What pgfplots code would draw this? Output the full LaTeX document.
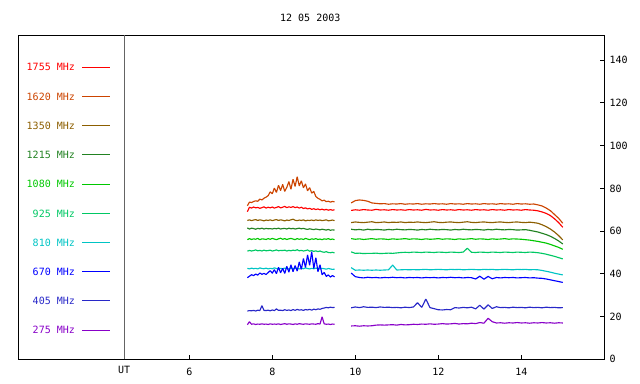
\documentclass[border=0pt]{standalone}
\usepackage{fontspec}
\setmainfont{DejaVu Sans Mono}
\usepackage{pgfplots}
\usepackage{pgfplotstable}
\pgfplotsset{compat=1.18}
\definecolor{k1755}{RGB}{255,0,0}
\definecolor{k1620}{RGB}{204,68,0}
\definecolor{k1350}{RGB}{140,94,0}
\definecolor{k1215}{RGB}{34,130,34}
\definecolor{k1080}{RGB}{0,200,0}
\definecolor{k925}{RGB}{0,200,100}
\definecolor{k810}{RGB}{0,196,196}
\definecolor{k670}{RGB}{0,0,255}
\definecolor{k405}{RGB}{40,40,200}
\definecolor{k275}{RGB}{136,0,200}
\definecolor{utgray}{RGB}{100,100,100}

\pgfplotstableread{
t f1755 f1620 f1350 f1215 f1080 f925 f810 f670 f405 f275
7.40 69.1 71.9 65.0 61.5 56.0 50.6 42.6 38.2 22.6 16.2
7.45 71.2 73.6 65.3 61.0 56.5 51.0 42.3 38.9 22.8 17.6
7.50 70.8 73.4 64.9 61.4 56.1 50.7 42.7 39.6 22.7 16.4
7.55 71.3 73.9 65.2 61.2 56.4 50.9 42.4 39.2 22.9 16.6
7.60 70.9 74.2 65.4 60.9 56.2 51.2 42.6 39.9 22.6 16.3
7.65 71.1 74.0 65.0 61.3 56.6 50.8 42.3 39.4 23.0 16.5
7.70 70.7 75.0 65.3 61.1 56.0 51.0 42.8 40.4 22.8 16.4
7.75 71.0 74.6 65.1 61.4 56.4 50.7 42.5 39.8 25.1 16.6
7.80 71.4 75.4 64.8 61.0 56.3 51.1 42.4 40.2 22.9 16.4
7.85 70.8 75.9 65.2 61.3 56.1 50.8 42.7 39.7 22.8 16.5
7.90 71.2 76.6 65.0 61.1 56.5 50.9 42.3 40.6 23.0 16.3
7.95 70.9 78.4 65.3 61.2 56.2 51.1 42.6 41.5 22.7 16.6
8.00 71.3 77.5 64.9 61.0 56.6 50.7 42.4 40.3 23.1 16.4
8.05 70.8 80.2 65.2 61.3 56.3 50.9 42.8 42.0 22.8 16.5
8.10 71.1 78.1 65.4 61.1 56.0 51.2 42.5 40.1 23.6 16.4
8.15 71.5 81.5 65.0 61.4 56.4 50.8 42.3 43.1 22.9 16.6
8.20 70.9 79.0 65.3 61.0 56.7 51.0 42.6 40.5 23.0 16.3
8.25 71.2 81.9 65.1 61.2 56.2 50.9 42.4 42.6 22.8 16.5
8.30 71.6 78.6 64.8 61.3 56.5 51.1 42.7 40.2 23.2 16.7
8.35 71.0 80.5 65.2 61.0 56.1 50.7 42.5 43.5 22.9 16.4
8.40 71.4 83.2 65.0 61.4 56.4 51.0 42.3 40.8 23.1 16.6
8.45 71.1 79.6 65.3 61.1 56.6 50.8 42.6 44.2 22.8 16.5
8.50 71.5 84.3 65.6 61.3 56.3 51.1 42.4 41.0 23.3 16.3
8.55 71.0 80.9 65.1 61.0 56.0 50.9 42.7 43.9 22.9 16.6
8.60 71.3 85.5 64.9 61.2 56.5 51.3 42.5 41.3 23.4 16.4
8.65 70.8 81.2 65.2 61.4 56.2 50.8 42.3 45.6 23.0 16.7
8.70 71.2 83.6 65.0 61.1 56.4 51.0 42.6 42.1 23.2 16.5
8.75 70.6 80.3 65.3 61.3 56.1 50.7 42.4 47.2 22.9 16.4
8.80 70.9 82.1 64.8 61.0 56.6 50.9 42.8 43.0 23.3 16.6
8.85 70.4 78.9 65.1 60.8 56.3 51.2 42.5 48.9 23.1 16.5
8.90 70.7 80.4 65.0 61.1 56.0 50.6 42.3 44.0 23.4 16.4
8.95 70.2 77.8 65.2 60.9 56.4 50.9 42.6 50.4 23.0 16.6
9.00 70.5 78.6 64.9 60.7 56.2 50.5 42.4 42.5 23.5 16.5
9.05 70.1 76.2 65.3 61.0 56.5 50.8 42.7 47.6 23.2 16.4
9.10 70.4 75.4 65.0 60.8 56.1 50.4 42.5 41.0 23.6 16.7
9.15 70.0 74.9 65.2 60.6 56.3 50.7 42.3 44.3 23.4 16.5
9.20 70.3 74.2 64.9 60.9 56.0 50.3 42.6 39.6 23.8 19.9
9.25 69.9 74.5 65.1 60.7 56.4 50.1 42.4 40.7 24.0 16.6
9.30 70.2 73.8 65.3 60.5 56.2 50.4 42.2 38.8 24.3 16.4
9.35 69.8 74.0 64.8 60.8 56.5 50.0 42.5 39.5 24.1 16.5
9.40 70.1 73.6 65.0 60.4 56.1 49.9 42.3 38.5 24.4 16.3
9.45 69.8 73.9 65.2 60.6 56.3 50.1 42.1 39.2 24.2 16.5
9.50 70.0 73.7 64.9 60.5 56.0 49.8 42.2 38.6 24.3 16.4
}\segA

\pgfplotstableread{
t f1755 f1620 f1350 f1215 f1080 f925 f810 f670 f405 f275
9.9 69.7 73.2 64.0 60.9 56.5 50.3 42.9 40.4 24.1 15.6
10.0 70.0 74.3 64.3 60.6 56.2 49.6 41.7 38.7 24.5 15.7
10.1 69.8 74.6 64.1 60.8 56.4 49.7 41.8 38.3 24.2 15.5
10.2 70.1 74.4 64.0 60.5 56.1 49.5 41.7 38.1 24.6 15.7
10.3 69.9 74.0 64.2 60.9 56.3 49.6 41.8 38.4 24.3 15.6
10.4 69.8 73.2 64.4 60.6 56.5 49.6 41.7 38.2 24.4 15.7
10.5 70.2 73.0 64.0 60.8 56.2 49.7 41.8 38.3 24.2 16.0
10.6 69.9 72.8 64.1 60.7 56.4 49.5 41.7 38.1 24.5 16.1
10.7 70.0 72.9 64.3 60.5 56.3 49.6 41.8 38.3 24.3 16.0
10.8 69.8 72.6 64.0 60.8 56.1 49.7 41.9 38.2 24.4 16.1
10.9 70.1 72.8 64.2 60.6 56.4 49.6 44.1 38.4 24.2 16.2
11.0 69.9 72.7 64.1 60.9 56.2 49.8 41.8 38.2 24.3 16.0
11.1 70.0 72.9 64.3 60.7 56.3 50.0 41.9 38.3 24.1 16.3
11.2 69.8 72.6 64.0 60.6 56.5 50.1 42.0 38.1 24.4 16.1
11.3 70.1 72.8 64.2 60.8 56.2 50.0 41.9 38.3 24.2 16.2
11.4 69.9 72.7 64.1 60.7 56.4 50.2 42.0 38.2 24.5 16.4
11.5 70.0 72.9 64.3 60.5 56.3 50.1 41.9 38.3 26.5 16.3
11.6 69.8 72.6 64.1 60.8 56.1 50.0 42.0 38.1 24.3 16.5
11.7 70.2 72.8 64.0 60.6 56.4 50.2 42.1 38.3 28.2 16.4
11.8 69.9 72.7 64.2 60.9 56.2 50.1 41.9 38.2 24.2 16.6
11.9 70.0 72.9 64.4 60.7 56.3 50.0 42.0 38.3 23.7 16.4
12.0 69.8 72.7 64.1 60.6 56.5 50.2 42.1 38.1 23.2 16.5
12.1 70.1 72.8 64.0 60.8 56.2 50.1 42.0 38.3 23.1 16.7
12.2 69.9 72.6 64.2 60.7 56.4 50.0 41.9 38.2 23.3 16.5
12.3 70.0 72.9 64.3 60.5 56.3 50.2 42.1 38.4 23.2 16.6
12.4 69.8 72.7 64.1 60.8 56.1 50.1 42.0 38.2 24.2 16.8
12.5 70.1 72.8 64.0 60.6 56.4 50.0 42.1 38.3 24.0 16.5
12.6 69.9 72.6 64.2 60.9 56.2 50.2 41.9 38.1 24.3 16.7
12.7 70.0 72.9 64.4 60.7 56.3 52.0 42.0 38.3 24.1 16.6
12.8 69.8 72.7 64.1 60.6 56.5 50.1 42.1 38.2 24.4 16.9
12.9 70.1 72.8 64.0 60.8 56.2 50.0 42.0 37.6 23.6 16.7
13.0 69.9 72.6 64.2 60.7 56.4 50.2 41.9 38.9 25.3 17.2
13.1 70.0 72.9 64.3 60.5 56.3 50.1 42.1 37.5 23.5 16.9
13.2 69.8 72.7 64.1 60.8 56.1 50.0 42.0 38.8 25.5 19.2
13.3 70.1 72.8 64.0 60.6 56.4 50.2 42.1 37.7 23.8 17.6
13.4 69.9 72.6 64.2 60.9 56.2 50.1 41.9 38.3 24.6 17.0
13.5 70.0 72.9 64.3 60.7 56.3 50.0 42.0 38.1 24.2 17.1
13.6 69.8 72.7 64.1 60.6 56.5 50.2 42.1 38.3 24.3 16.9
13.7 70.1 72.8 64.0 60.8 56.2 50.1 42.0 38.2 24.1 17.1
13.8 69.9 72.6 64.2 60.7 56.4 50.0 41.9 38.3 24.4 17.0
13.9 70.0 72.9 64.3 60.5 56.3 50.2 42.1 38.1 24.2 17.2
14.0 69.8 72.7 64.1 60.6 56.2 50.1 42.0 38.2 24.3 17.0
14.1 70.1 72.8 64.0 60.7 56.0 50.0 42.1 38.3 24.1 17.1
14.2 69.9 72.6 64.2 60.4 55.8 50.2 41.9 38.1 24.4 16.9
14.3 69.8 72.7 64.0 60.0 55.5 50.1 42.0 38.2 24.2 17.1
14.4 69.5 72.3 63.7 59.6 55.2 49.9 41.9 38.0 24.3 17.0
14.5 69.0 71.8 63.0 59.0 54.8 49.6 41.6 37.9 24.1 17.2
14.6 68.3 70.8 62.1 58.4 54.4 49.2 41.2 37.6 24.4 17.0
14.7 67.3 69.6 61.0 57.6 53.8 48.7 40.8 37.2 24.2 17.1
14.8 65.8 67.8 59.6 56.6 53.1 48.2 40.3 36.8 24.3 16.9
14.9 64.0 66.0 57.9 55.4 52.4 47.6 39.9 36.4 24.1 17.1
15.0 61.8 63.7 55.9 54.0 51.5 47.0 39.5 36.0 24.2 17.0
}\segB

\begin{document}
\begin{tikzpicture}
\path[use as bounding box] (0,0) rectangle (480pt,288pt);
\node[font=\fontsize{7.5}{9}\selectfont] at (232.7pt,274.3pt) {12 05 2003};
\begin{axis}[
  at={(13.725pt,18.525pt)}, anchor=south west,
  width=439.5pt, height=243pt, scale only axis,
  xmin=1.88, xmax=16.0, ymin=0, ymax=151.7,
  axis line style={black, line width=0.75pt},
  font=\fontsize{7.5}{9}\selectfont,
  /pgf/number format/assume math mode=true,
  xtick={6,8,10,12,14}, xtick pos=bottom, tick align=inside,
  ytick={0,20,...,140}, ytick pos=right, yticklabel pos=right,
  yticklabel style={anchor=west, xshift=0.5pt},
  xticklabel style={yshift=-3pt},
  major tick length=3pt,
  tick style={black, line width=0.75pt},
  extra x ticks={4.43}, extra x tick labels={UT},
  extra x tick style={major tick length=0pt, xticklabel style={yshift=1pt}},
  clip=false,
]
\draw[utgray, line width=0.75pt] (axis cs:4.43,0) -- (axis cs:4.43,151.7);
% legend
\node[anchor=east, text=k1755, inner sep=0pt] at (axis cs:3.25,136.7) {1755 MHz};
\node[anchor=east, text=k1620, inner sep=0pt] at (axis cs:3.25,123.0) {1620 MHz};
\node[anchor=east, text=k1350, inner sep=0pt] at (axis cs:3.25,109.3) {1350 MHz};
\node[anchor=east, text=k1215, inner sep=0pt] at (axis cs:3.25,95.7) {1215 MHz};
\node[anchor=east, text=k1080, inner sep=0pt] at (axis cs:3.25,82.0) {1080 MHz};
\node[anchor=east, text=k925, inner sep=0pt] at (axis cs:3.25,68.3) {925 MHz};
\node[anchor=east, text=k810, inner sep=0pt] at (axis cs:3.25,54.6) {810 MHz};
\node[anchor=east, text=k670, inner sep=0pt] at (axis cs:3.25,41.0) {670 MHz};
\node[anchor=east, text=k405, inner sep=0pt] at (axis cs:3.25,27.3) {405 MHz};
\node[anchor=east, text=k275, inner sep=0pt] at (axis cs:3.25,13.6) {275 MHz};
\draw[k1755, line width=0.75pt] (axis cs:3.415,136.7) -- (axis cs:4.09,136.7);
\draw[k1620, line width=0.75pt] (axis cs:3.415,123.0) -- (axis cs:4.09,123.0);
\draw[k1350, line width=0.75pt] (axis cs:3.415,109.3) -- (axis cs:4.09,109.3);
\draw[k1215, line width=0.75pt] (axis cs:3.415,95.7) -- (axis cs:4.09,95.7);
\draw[k1080, line width=0.75pt] (axis cs:3.415,82.0) -- (axis cs:4.09,82.0);
\draw[k925, line width=0.75pt] (axis cs:3.415,68.3) -- (axis cs:4.09,68.3);
\draw[k810, line width=0.75pt] (axis cs:3.415,54.6) -- (axis cs:4.09,54.6);
\draw[k670, line width=0.75pt] (axis cs:3.415,41.0) -- (axis cs:4.09,41.0);
\draw[k405, line width=0.75pt] (axis cs:3.415,27.3) -- (axis cs:4.09,27.3);
\draw[k275, line width=0.75pt] (axis cs:3.415,13.6) -- (axis cs:4.09,13.6);
% data
\pgfplotsset{every axis plot/.append style={line width=0.85pt, mark=none, line join=bevel}}
\addplot[k1755] table[x=t,y=f1755]{\segA};
\addplot[k1620] table[x=t,y=f1620]{\segA};
\addplot[k1350] table[x=t,y=f1350]{\segA};
\addplot[k1215] table[x=t,y=f1215]{\segA};
\addplot[k1080] table[x=t,y=f1080]{\segA};
\addplot[k925] table[x=t,y=f925]{\segA};
\addplot[k810] table[x=t,y=f810]{\segA};
\addplot[k670] table[x=t,y=f670]{\segA};
\addplot[k405] table[x=t,y=f405]{\segA};
\addplot[k275] table[x=t,y=f275]{\segA};
\addplot[k1755] table[x=t,y=f1755]{\segB};
\addplot[k1620] table[x=t,y=f1620]{\segB};
\addplot[k1350] table[x=t,y=f1350]{\segB};
\addplot[k1215] table[x=t,y=f1215]{\segB};
\addplot[k1080] table[x=t,y=f1080]{\segB};
\addplot[k925] table[x=t,y=f925]{\segB};
\addplot[k810] table[x=t,y=f810]{\segB};
\addplot[k670] table[x=t,y=f670]{\segB};
\addplot[k405] table[x=t,y=f405]{\segB};
\addplot[k275] table[x=t,y=f275]{\segB};
\end{axis}
\end{tikzpicture}
\end{document}
